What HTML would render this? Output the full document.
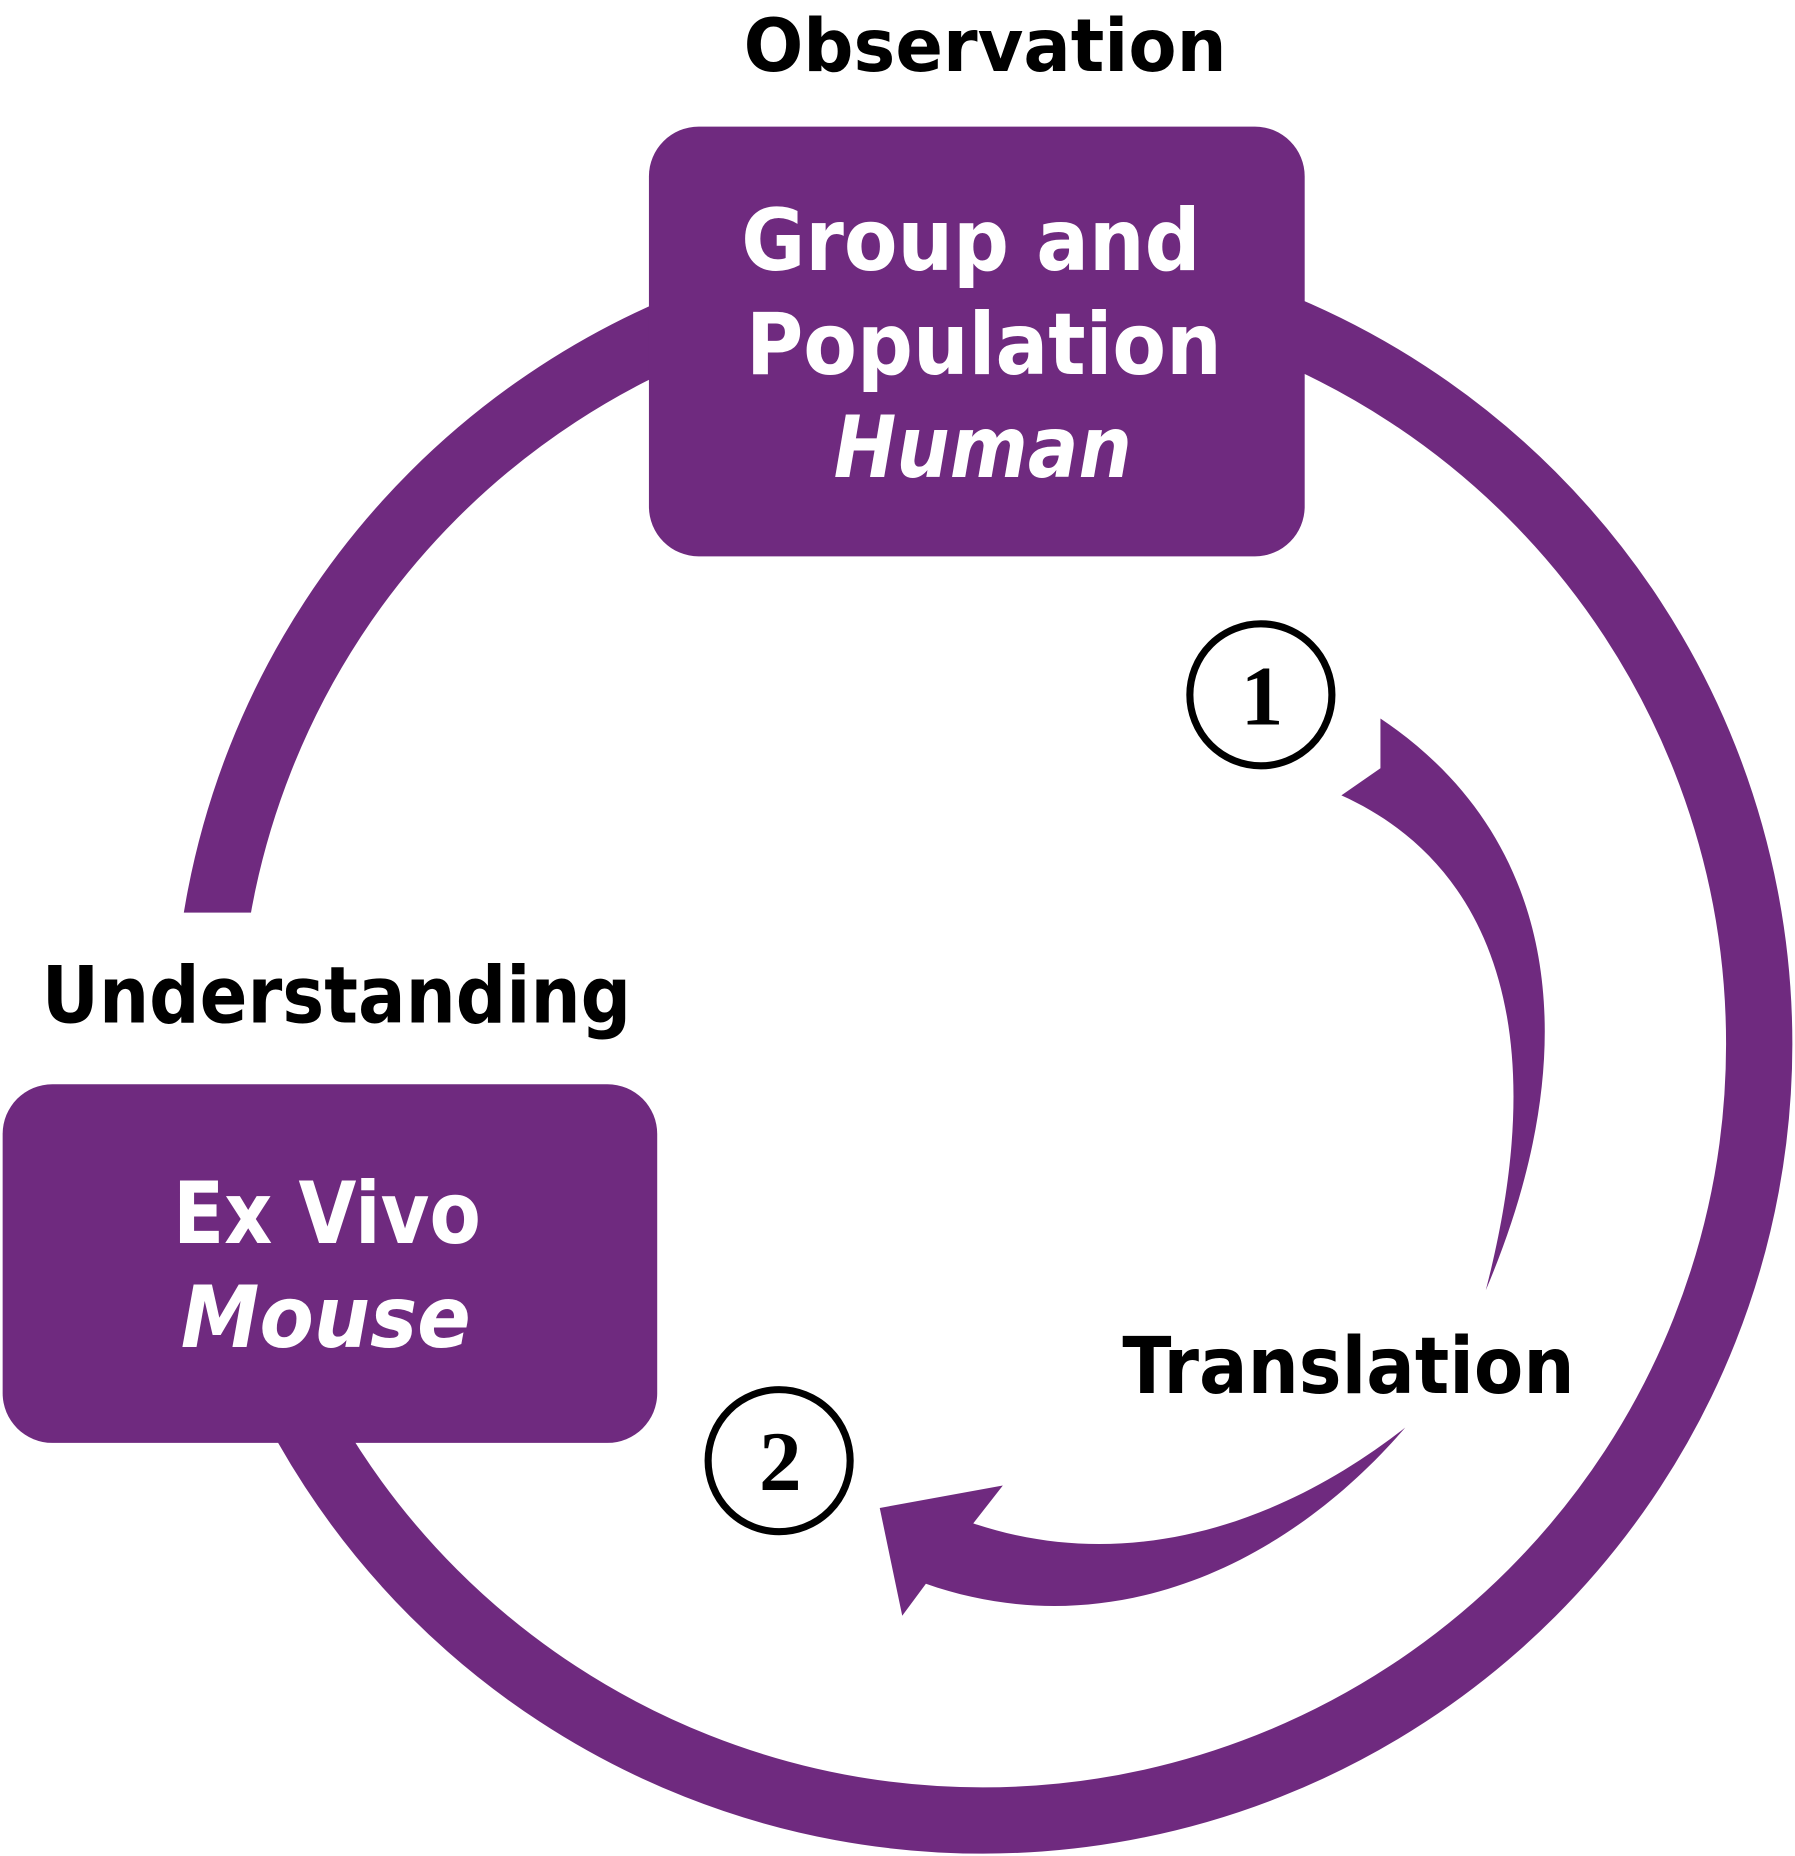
<!DOCTYPE html>
<html><head><meta charset="utf-8"><style>
html,body{margin:0;padding:0;background:#fff;width:1795px;height:1856px;overflow:hidden}
svg{display:block}
text{font-family:"DejaVu Sans","Liberation Sans",sans-serif;font-weight:bold}
</style></head><body>
<svg width="1795" height="1856" viewBox="0 0 1516 1568" xmlns="http://www.w3.org/2000/svg">
<circle cx="830" cy="882" r="656" fill="none" stroke="#6f2a7f" stroke-width="56"/>
<rect x="0" y="771" width="540" height="146" fill="#fff"/>
<rect x="548" y="107" width="554" height="363" rx="42" fill="#6f2a7f"/>
<rect x="2" y="916" width="553" height="303" rx="42" fill="#6f2a7f"/>
<text x="832" y="60" text-anchor="middle" font-size="62" fill="#000" textLength="408" lengthAdjust="spacingAndGlyphs">Observation</text>
<text x="820" y="228" text-anchor="middle" font-size="72" fill="#fff" textLength="388" lengthAdjust="spacingAndGlyphs">Group and</text>
<text x="831" y="316" text-anchor="middle" font-size="72" fill="#fff" textLength="402" lengthAdjust="spacingAndGlyphs">Population</text>
<text x="830" y="403" text-anchor="middle" font-size="72" font-style="italic" fill="#fff" textLength="252" lengthAdjust="spacingAndGlyphs">Human</text>
<text x="284" y="864" text-anchor="middle" font-size="66" fill="#000" textLength="498" lengthAdjust="spacingAndGlyphs">Understanding</text>
<text x="276" y="1050" text-anchor="middle" font-size="72" fill="#fff" textLength="260" lengthAdjust="spacingAndGlyphs">Ex Vivo</text>
<text x="275" y="1138" text-anchor="middle" font-size="72" font-style="italic" fill="#fff" textLength="245" lengthAdjust="spacingAndGlyphs">Mouse</text>
<text x="1139" y="1177" text-anchor="middle" font-size="66" fill="#000" textLength="382" lengthAdjust="spacingAndGlyphs">Translation</text>
<circle cx="1065" cy="587" r="60" fill="#fff" stroke="#000" stroke-width="6"/>
<text x="1066" y="612" text-anchor="middle" font-size="72" style="font-family:'Liberation Serif',serif" fill="#000">1</text>
<circle cx="658" cy="1234" r="60" fill="#fff" stroke="#000" stroke-width="6"/>
<text x="659" y="1259" text-anchor="middle" font-size="72" style="font-family:'Liberation Serif',serif" fill="#000">2</text>
<path d="M1166,607 C1320,710 1340,890 1255,1090 C1320,840 1240,720 1133,672 L1166,649 Z" fill="#6f2a7f"/>
<path d="M1187,1206 C1080,1290 950,1330 822,1287 L847,1255 L743,1274 L762,1365 L782,1338 C930,1390 1080,1330 1187,1206 Z" fill="#6f2a7f"/>
</svg>
</body></html>
